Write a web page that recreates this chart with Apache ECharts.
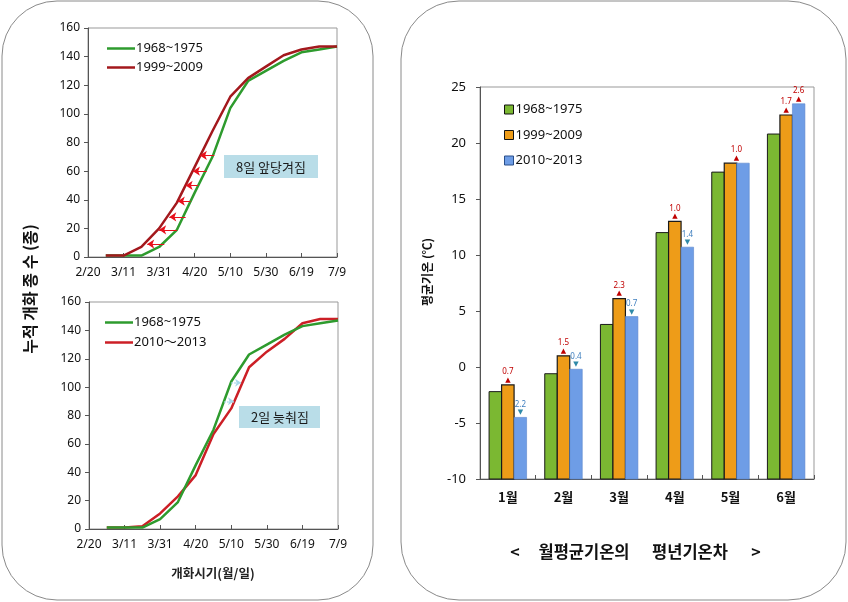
<!DOCTYPE html>
<html><head><meta charset="utf-8">
<script src="https://cdn.jsdelivr.net/npm/echarts@6/dist/echarts.min.js"></script>
<style>html,body{margin:0;padding:0;background:#fff}#c{width:848px;height:602px}</style>
</head><body><div id="c"></div>
<script>
// ---- left charts: cumulative number of flowering species ----
const xTickLabels = ['2/20','3/11','3/31','4/20','5/10','5/30','6/19','7/9'];
const periodLabels = ['3/1','3/11','3/21','3/31','4/10','4/20','4/30','5/10','5/20','5/30','6/9','6/19','6/29','7/9'];
const periodIndex = [1,2,3,4,5,6,7,8,9,10,11,12,13,14];
const green6875 = [1,1,1,7,19,45,70,104,123,130,137,143,145,147];
const red9909   = [1,1,7,20,38,63,88,112,125,133,141,145,147,147];
const red1013   = [1,1,2,11,23,38,67,85,114,125,134,145,148,148];
// arrows: [value, fromIndex, toIndex]
const arrowsTop = [[9,4.29,3.33],[19,5.0,4.0],[28,5.49,4.57],[39,5.77,5.05],[50,6.19,5.49],[60,6.67,5.9],[71,7.1,6.29]];
const arrowsBottom = [[103,8.0,8.55],[90,7.6,8.15]];
// ---- right chart: monthly mean temperature ----
const months = ['1월','2월','3월','4월','5월','6월'];
const temp6875 = [-2.2,-0.6,3.8,12.0,17.4,20.8];
const temp9909 = [-1.6,1.0,6.1,13.0,18.2,22.5];
const temp1013 = [-4.5,-0.2,4.5,10.7,18.2,23.5];
const diff9909 = ['0.7','1.5','2.3','1.0','1.0','1.7'];
const diff1013 = ['2.2','0.4','0.7','1.4','','2.6'];
const dir1013  = ['down','down','down','down','','up'];
const yTicksLeft = [0,160,20];
const yTicksRight = [-10,25,5];

const FONT = '"Noto Sans", "Noto Sans CJK KR", sans-serif';
const KFONT = '"Noto Sans CJK KR", "Noto Sans", sans-serif';
const C_GREEN = '#2e9b2e', C_RED1 = '#a3181d', C_RED2 = '#cc1f26';
const C_BG = '#7bb832', C_BO = '#ee9c18', C_BB = '#6e9de6';
const BAR_W = 12.5;

const pairs = (arr) => arr.map((v, i) => [periodIndex[i], v]);
const arrowData = (list) => list.map(a => [{coord: [a[1], a[0]]}, {coord: [a[2], a[0]]}]);

function lineX(idx) {
  return {
    type: 'value', gridIndex: idx, min: 0, max: 14, interval: 2,
    splitLine: {show: false},
    axisLine: {show: true, lineStyle: {color: '#555'}},
    axisTick: {show: true, inside: true, length: 4, lineStyle: {color: '#555'}},
    axisLabel: {margin: 10, fontFamily: FONT, fontSize: 12, color: '#111',
      formatter: v => { const k = Math.round(v / 2); return Math.abs(v / 2 - k) < 1e-6 && xTickLabels[k] ? xTickLabels[k] : ''; }}
  };
}
function lineY(idx) {
  return {
    type: 'value', gridIndex: idx, min: yTicksLeft[0], max: yTicksLeft[1], interval: yTicksLeft[2],
    splitLine: {show: false},
    axisLine: {show: true, lineStyle: {color: '#555'}},
    axisTick: {show: true, inside: false, length: 4, lineStyle: {color: '#555'}},
    axisLabel: {margin: 8, fontFamily: FONT, fontSize: 12, color: '#111'}
  };
}

const RICH = {
  r: {fontSize: 8, lineHeight: 9, fill: '#c00000', fontFamily: FONT},
  b: {fontSize: 8, lineHeight: 9, fill: '#3f7fbf', fontFamily: FONT},
  u: {fontSize: 7, lineHeight: 7, fill: '#c00000', fontFamily: '"DejaVu Sans", sans-serif'},
  d: {fontSize: 7, lineHeight: 7, fill: '#2f8aa8', fontFamily: '"DejaVu Sans", sans-serif'}
};
const orangeLabels = diff9909.map((t, i) => ({text: '{r|' + t + '}\n{u|▲}', offset: months[i] === '5월' ? 6 : 0}));
const blueLabels = diff1013.map((t, i) => t === '' ? null :
  {text: dir1013[i] === 'up' ? '{r|' + t + '}\n{u|▲}' : '{b|' + t + '}\n{d|▼}', offset: 0});

function barSeries(name, values, k, fill, stroke, lw, labels) {
  return {
    type: 'custom', name: name, xAxisIndex: 2, yAxisIndex: 2,
    data: values.map((v, i) => [i, v]),
    encode: {x: 0, y: 1},
    itemStyle: {color: fill},
    renderItem: function (params, api) {
      const i = api.value(0), v = api.value(1);
      const top = api.coord([i, v]);
      const base = api.coord([i, yTicksRight[0]]);
      const x = top[0] - 1.5 * BAR_W + k * BAR_W;
      const el = {
        type: 'rect',
        shape: {x: x, y: top[1], width: BAR_W, height: base[1] - top[1]},
        style: {fill: fill, stroke: stroke, lineWidth: lw}
      };
      const lb = labels && labels[i];
      if (lb) {
        el.textContent = {type: 'text', style: {text: lb.text, rich: RICH, align: 'center', verticalAlign: 'bottom'}};
        el.textConfig = {position: 'top', distance: 1, offset: [lb.offset, 0]};
      }
      return el;
    }
  };
}

const option = {
  animation: false,
  backgroundColor: '#fff',
  grid: [
    {left: 88, top: 28, width: 249, height: 229, show: true, borderColor: '#999', borderWidth: 1, outerBoundsMode: 'none'},
    {left: 89, top: 302, width: 249, height: 227, show: true, borderColor: '#999', borderWidth: 1, outerBoundsMode: 'none'},
    {left: 480, top: 87, width: 334, height: 392, show: true, borderColor: '#999', borderWidth: 1, outerBoundsMode: 'none'}
  ],
  xAxis: [
    lineX(0), lineX(1),
    {type: 'category', gridIndex: 2, data: months,
      axisLine: {show: true, onZero: false, lineStyle: {color: '#555'}},
      axisTick: {show: true, inside: true, length: 4, lineStyle: {color: '#555'}},
      axisLabel: {margin: 12, fontFamily: KFONT, fontSize: 13, fontWeight: 'bold', color: '#111'}}
  ],
  yAxis: [
    lineY(0), lineY(1),
    {type: 'value', gridIndex: 2, min: yTicksRight[0], max: yTicksRight[1], interval: yTicksRight[2],
      splitLine: {show: false},
      axisLine: {show: true, lineStyle: {color: '#555'}},
      axisTick: {show: true, inside: false, length: 4, lineStyle: {color: '#555'}},
      axisLabel: {margin: 14, fontFamily: FONT, fontSize: 13, color: '#111'}}
  ],
  legend: [
    {left: 102, top: 36, orient: 'vertical', itemGap: 4, itemWidth: 28, itemHeight: 2.5,
      textStyle: {fontFamily: FONT, fontSize: 13, color: '#111', lineHeight: 15, padding: [0, 0, 0, -4]},
      data: [{name: '1968~1975', icon: 'rect', itemStyle: {color: C_GREEN}},
             {name: '1999~2009', icon: 'rect', itemStyle: {color: C_RED1}}]},
    {left: 100, top: 310, orient: 'vertical', itemGap: 5, itemWidth: 28, itemHeight: 2.5,
      textStyle: {fontFamily: FONT, fontSize: 13, color: '#111', lineHeight: 15, padding: [0, 0, 0, -4]},
      data: [{name: '1968~1975', icon: 'rect', itemStyle: {color: C_GREEN}},
             {name: '2010～2013', icon: 'rect', itemStyle: {color: C_RED2}}]},
    {left: 499, top: 97, orient: 'vertical', itemGap: 10.5, itemWidth: 9, itemHeight: 9,
      textStyle: {fontFamily: FONT, fontSize: 13, color: '#111', lineHeight: 15, padding: [0, 0, 0, -3]},
      data: [{name: '1968~1975', icon: 'rect', itemStyle: {color: C_BG, borderColor: '#111', borderWidth: 1}},
             {name: '1999~2009', icon: 'rect', itemStyle: {color: C_BO, borderColor: '#111', borderWidth: 1}},
             {name: '2010~2013', icon: 'rect', itemStyle: {color: C_BB, borderColor: '#2a4f8a', borderWidth: 1}}]}
  ],
  series: [
    {type: 'line', name: '1968~1975', xAxisIndex: 0, yAxisIndex: 0, data: pairs(green6875),
      symbol: 'none', color: C_GREEN, lineStyle: {width: 2.5, color: C_GREEN}, z: 2},
    {type: 'line', name: '1999~2009', xAxisIndex: 0, yAxisIndex: 0, data: pairs(red9909),
      symbol: 'none', color: C_RED1, lineStyle: {width: 2.5, color: C_RED1}, z: 3,
      markLine: {silent: true, symbol: ['none', 'arrow'], symbolSize: 7, label: {show: false},
        lineStyle: {color: '#e8101c', width: 1, type: 'solid'}, data: arrowData(arrowsTop)}},
    {type: 'line', name: '2010～2013', xAxisIndex: 1, yAxisIndex: 1, data: pairs(red1013),
      symbol: 'none', color: C_RED2, lineStyle: {width: 2.5, color: C_RED2}, z: 2,
      markLine: {silent: true, symbol: ['none', 'arrow'], symbolSize: 6, label: {show: false},
        lineStyle: {color: '#a8d8ea', width: 1.5, type: 'dotted'}, data: arrowData(arrowsBottom)}},
    {type: 'line', name: '1968~1975', xAxisIndex: 1, yAxisIndex: 1, data: pairs(green6875),
      symbol: 'none', color: C_GREEN, lineStyle: {width: 2.5, color: C_GREEN}, z: 3},
    barSeries('1968~1975', temp6875, 0, C_BG, '#1a1a1a', 1, null),
    barSeries('1999~2009', temp9909, 1, C_BO, '#1a1a1a', 1.2, orangeLabels),
    barSeries('2010~2013', temp1013, 2, C_BB, '#5a86cc', 0.6, blueLabels)
  ],
  graphic: [
    {type: 'rect', silent: true, z: -1, shape: {x: 2, y: 1, width: 371, height: 599, r: 55},
      style: {fill: 'none', stroke: '#8a8a8a', lineWidth: 1}},
    {type: 'rect', silent: true, z: -1, shape: {x: 401, y: 1, width: 445, height: 599, r: 58},
      style: {fill: 'none', stroke: '#8a8a8a', lineWidth: 1}},
    {type: 'rect', silent: true, shape: {x: 224, y: 155, width: 94, height: 23},
      style: {fill: '#b9dde8'}},
    {type: 'text', silent: true, x: 271, y: 167,
      style: {text: '8일 앞당겨짐', font: '13px ' + KFONT, fill: '#1a1a1a', textAlign: 'center', textVerticalAlign: 'middle'}},
    {type: 'rect', silent: true, shape: {x: 239, y: 406, width: 81, height: 22},
      style: {fill: '#b9dde8'}},
    {type: 'text', silent: true, x: 280, y: 417,
      style: {text: '2일 늦춰짐', font: '13px ' + KFONT, fill: '#1a1a1a', textAlign: 'center', textVerticalAlign: 'middle'}},
    {type: 'text', silent: true, x: 30, y: 289, rotation: Math.PI / 2,
      style: {text: '누적 개화 종 수 (종)', font: 'bold 16px ' + KFONT, fill: '#111', textAlign: 'center', textVerticalAlign: 'middle'}},
    {type: 'text', silent: true, x: 213, y: 573,
      style: {text: '개화시기(월/일)', font: 'bold 12.5px ' + KFONT, fill: '#222', textAlign: 'center', textVerticalAlign: 'middle'}},
    {type: 'text', silent: true, x: 427, y: 272, rotation: Math.PI / 2,
      style: {text: '평균기온 (℃)', font: 'bold 12px ' + KFONT, fill: '#111', textAlign: 'center', textVerticalAlign: 'middle'}},
    {type: 'text', silent: true, x: 515, y: 552,
      style: {text: '<', font: 'bold 16px ' + KFONT, fill: '#111', textAlign: 'center', textVerticalAlign: 'middle'}},
    {type: 'text', silent: true, x: 584, y: 552,
      style: {text: '월평균기온의', font: 'bold 16.5px ' + KFONT, fill: '#111', textAlign: 'center', textVerticalAlign: 'middle'}},
    {type: 'text', silent: true, x: 690, y: 552,
      style: {text: '평년기온차', font: 'bold 16.5px ' + KFONT, fill: '#111', textAlign: 'center', textVerticalAlign: 'middle'}},
    {type: 'text', silent: true, x: 756, y: 552,
      style: {text: '>', font: 'bold 16px ' + KFONT, fill: '#111', textAlign: 'center', textVerticalAlign: 'middle'}}
  ]
};
const chart = echarts.init(document.getElementById('c'), null, {renderer: 'canvas', width: 848, height: 602});
chart.setOption(option);
</script></body></html>
